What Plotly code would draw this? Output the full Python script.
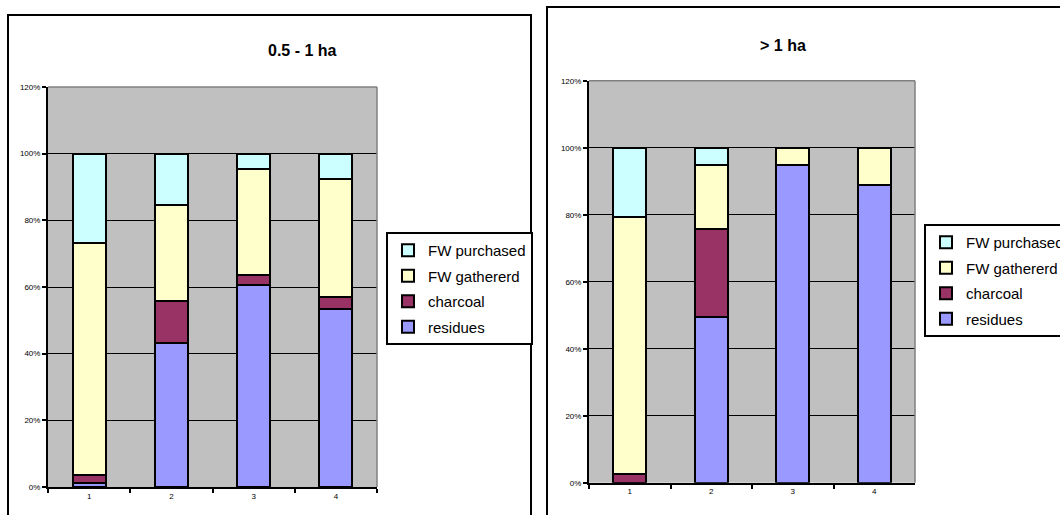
import plotly.graph_objects as go

categories = ["1", "2", "3", "4"]
series_names = ["residues", "charcoal", "FW gathererd", "FW purchased"]

# 0.5 - 1 ha (percent)
residues_a = [1.2, 43.1, 60.6, 53.4]
charcoal_a = [2.5, 12.7, 3.0, 3.7]
gathered_a = [69.5, 28.8, 31.8, 35.3]
purchased_a = [26.8, 15.4, 4.6, 7.6]

# > 1 ha (percent)
residues_b = [0, 49.5, 94.8, 88.8]
charcoal_b = [2.5, 26.2, 0, 0]
gathered_b = [76.7, 19.1, 5.2, 11.2]
purchased_b = [20.8, 5.2, 0, 0]

titles = ["0.5 - 1 ha", "> 1 ha"]
colors = ["#9999FF", "#993366", "#FFFFCC", "#CCFFFF"]

FONT = "Arial, Liberation Sans, sans-serif"
W, H = 1060, 515

fig = go.Figure()

panels = [
    ([residues_a, charcoal_a, gathered_a, purchased_a], "x", "y", "legend", "a"),
    ([residues_b, charcoal_b, gathered_b, purchased_b], "x2", "y2", "legend2", "b"),
]
for data, xa, ya, lg, tag in panels:
    n = len(series_names)
    for i, (name, vals, col) in enumerate(zip(series_names, data, colors)):
        fig.add_trace(go.Bar(
            x=categories, y=vals, name=name, xaxis=xa, yaxis=ya, legend=lg,
            legendgroup=tag + name, legendrank=n - i,
            width=0.4, marker=dict(color=col, line=dict(color="black", width=2)),
        ))

def px_x(v):
    return v / W

def px_y(v):
    return 1 - v / H

axis_common_x = dict(
    type="category", range=[-0.5, 3.5], ticks="outside", tickson="boundaries",
    ticklen=4, tickwidth=1.5, tickcolor="black", showline=True, linecolor="black",
    linewidth=2, showgrid=False, tickfont=dict(family=FONT, size=8, color="black"),
    fixedrange=True,
)
axis_common_y = dict(
    range=[0, 120], dtick=20, ticksuffix="%", ticks="outside", ticklen=4,
    tickwidth=1.5, tickcolor="black", showline=True, linecolor="black", linewidth=2,
    showgrid=True, gridcolor="black", gridwidth=1, zeroline=False,
    tickfont=dict(family=FONT, size=8, color="black"), fixedrange=True,
)

legend_common = dict(
    xanchor="left", yanchor="top", bordercolor="black", borderwidth=2,
    bgcolor="white", traceorder="grouped", tracegroupgap=3,
    font=dict(family=FONT, size=15, color="black"),
)

fig.update_layout(
    width=W, height=H,
    margin=dict(l=0, r=0, t=0, b=0, autoexpand=False),
    paper_bgcolor="white", plot_bgcolor="#C0C0C0",
    barmode="stack", bargap=0.6,
    font=dict(family=FONT, color="black"),
    xaxis=dict(domain=[px_x(48), px_x(377)], anchor="y", **axis_common_x),
    yaxis=dict(domain=[px_y(487), px_y(87)], anchor="x", **axis_common_y),
    xaxis2=dict(domain=[px_x(589), px_x(915)], anchor="y2", **axis_common_x),
    yaxis2=dict(domain=[px_y(482.7), px_y(80.7)], anchor="x2", **axis_common_y),
    legend=dict(x=px_x(386), y=px_y(232), **legend_common),
    legend2=dict(x=px_x(924), y=px_y(224), **legend_common),
    showlegend=True,
)

# titles
fig.add_annotation(text="<b>" + titles[0] + "</b>", x=px_x(266), y=px_y(40),
                   xref="paper", yref="paper", showarrow=False,
                   font=dict(family=FONT, size=16, color="black"))
fig.add_annotation(text="<b>" + titles[1] + "</b>", x=px_x(808), y=px_y(35),
                   xref="paper", yref="paper", showarrow=False,
                   font=dict(family=FONT, size=16, color="black"))

# plot-area gray frame (top & right)
for xd, yd in [("x domain", "y domain"), ("x2 domain", "y2 domain")]:
    fig.add_shape(type="line", xref=xd, yref=yd, x0=0, x1=1, y0=1, y1=1,
                  line=dict(color="#808080", width=1.5))
    fig.add_shape(type="line", xref=xd, yref=yd, x0=1, x1=1, y0=0, y1=1,
                  line=dict(color="#808080", width=1.5))

# chart outer borders
fig.add_shape(type="rect", xref="paper", yref="paper",
              x0=px_x(8), x1=px_x(531), y0=px_y(530), y1=px_y(15),
              line=dict(color="black", width=2))
fig.add_shape(type="rect", xref="paper", yref="paper",
              x0=px_x(547), x1=px_x(1080), y0=px_y(530), y1=px_y(7),
              line=dict(color="black", width=2))

fig.write_html("out.html")
